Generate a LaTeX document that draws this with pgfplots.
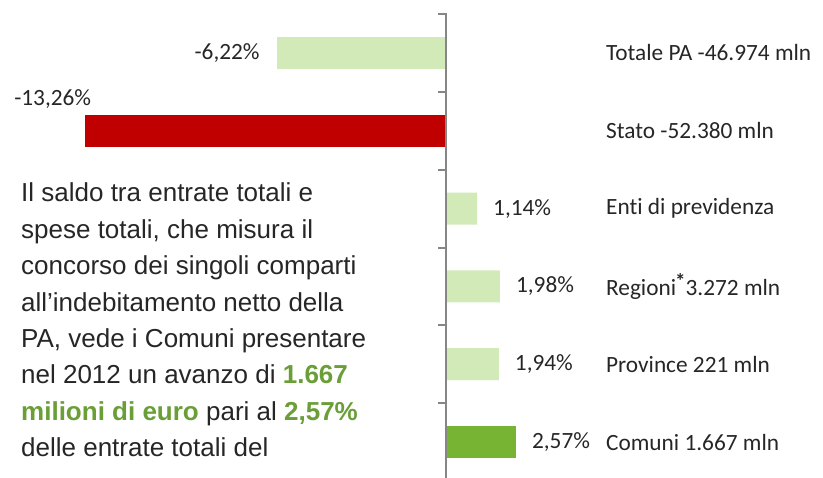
\documentclass[border=0pt]{standalone}
\usepackage{pgfplots}
\pgfplotsset{compat=1.18}
\usepackage{fontspec}
\setmainfont{Carlito}[Ligatures=NoCommon]
\newfontfamily\arialfont{Liberation Sans}

\definecolor{lightg}{HTML}{D1EAB8}
\definecolor{darkred}{HTML}{C00000}
\definecolor{midg}{HTML}{78B433}
\definecolor{textg}{HTML}{6A9E37}
\definecolor{axgray}{HTML}{868686}
\definecolor{txt}{HTML}{262626}

\begin{document}
\begin{tikzpicture}[x=1pt,y=1pt]
\begin{axis}[
    at={(0pt,-3pt)}, anchor=south west,
    scale only axis, width=823pt, height=467pt,
    xmin=-16.397, xmax=13.860,
    ymin=-0.5, ymax=5.5, y dir=reverse,
    axis lines=none,
    xbar, bar width=32pt, bar shift=0pt,
    clip=false,
    nodes near coords, point meta=explicit symbolic,
    every node near coord/.style={font=\fontsize{23.3}{28}\selectfont, text=txt, inner sep=0pt},
]
% Totale PA
\addplot[draw=none, fill=lightg,
    every node near coord/.append style={anchor=east, xshift=-17pt}]
    coordinates {(-6.22,0) [-6,22\%]};
% Stato
\addplot[draw=none, fill=darkred,
    every node near coord/.append style={anchor=east, xshift=6pt, yshift=32pt}]
    coordinates {(-13.26,1) [-13,26\%]};
% Enti, Regioni, Province
\addplot[draw=none, fill=lightg,
    every node near coord/.append style={anchor=west, xshift=16pt}]
    coordinates {(1.14,2) [1,14\%] (1.98,3) [1,98\%] (1.94,4) [1,94\%]};
% Comuni
\addplot[draw=none, fill=midg,
    every node near coord/.append style={anchor=west, xshift=16pt}]
    coordinates {(2.57,5) [2,57\%]};

% vertical axis with category separators
\draw[axgray, line width=2pt] (axis cs:0,-0.5) -- (axis cs:0,5.5);
\pgfplotsinvokeforeach{-0.5,0.5,1.5,2.5,3.5,4.5}{
  \draw[axgray, line width=2pt] ([xshift=1pt]axis cs:0,#1) -- ([xshift=-8pt]axis cs:0,#1);
}

% category names
\begin{scope}[every node/.style={anchor=west, inner sep=0pt, text=txt, font=\fontsize{23.3}{28}\selectfont}]
\node at (axis cs:5.88,0) {Totale PA -46.974 mln};
\node at (axis cs:5.88,1) {Stato -52.380 mln};
\node at (axis cs:5.88,2) {Enti di previdenza};
\node at (axis cs:5.88,3) {Regioni\hspace{-1pt}\raisebox{0.3em}{\fontsize{21}{21}\selectfont\bfseries *}3.272 mln};
\node at (axis cs:5.88,4) {Province 221 mln};
\node at (axis cs:5.88,5) {Comuni 1.667 mln};
\end{scope}
\end{axis}

% commentary
\begin{scope}[every node/.style={anchor=base west, inner sep=0pt, text=txt, font=\arialfont\fontsize{26}{30}\selectfont}]
\node at (21,276.0) {Il saldo tra entrate totali e};
\node at (21,239.6) {spese totali, che misura il};
\node at (21,203.2) {concorso dei singoli comparti};
\node at (21,166.8) {all’indebitamento netto della};
\node at (21,130.4) {PA, vede i Comuni presentare};
\node at (21,94.0) {nel 2012 un avanzo di \textcolor{textg}{\bfseries 1.667}};
\node at (21,57.6) {\textcolor{textg}{\bfseries milioni di euro} pari al \textcolor{textg}{\bfseries 2,57\%}};
\node at (21,21.2) {delle entrate totali del};
\end{scope}

\pgfresetboundingbox
\path[use as bounding box] (0,0) rectangle (823,478);
\end{tikzpicture}
\end{document}
